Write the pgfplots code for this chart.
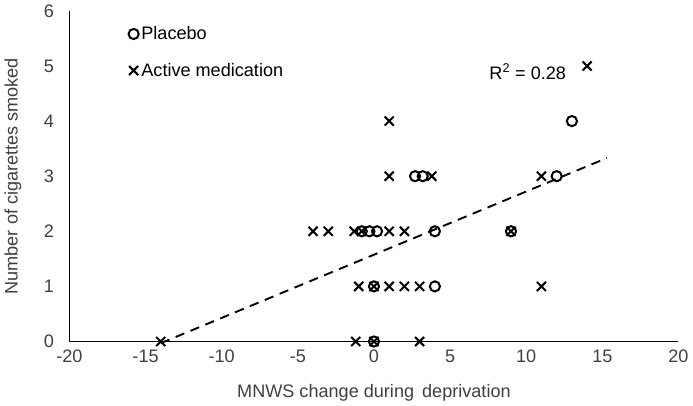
\documentclass[border=0pt]{standalone}
\usepackage{fontspec}
\setmainfont{Liberation Sans}
\usepackage{pgfplots}
\pgfplotsset{compat=1.18}
\definecolor{txtgray}{HTML}{404040}
\begin{document}
\begin{tikzpicture}[x=1pt,y=1pt]
\begin{axis}[
  scale only axis,
  width=454.5pt, height=246.75pt,
  xmin=-20, xmax=20, ymin=0, ymax=6,
  xtick={-20,-15,...,20}, ytick={0,1,...,6},
  axis x line=bottom, axis y line=left,
  axis line style={black, line width=1.4pt, -},
  major tick length=0pt,
  tick label style={font=\fontsize{13.5}{15}\selectfont, text=txtgray},
  /pgf/number format/assume math mode=true,
  xticklabel style={yshift=-3pt},
  yticklabel style={xshift=-8pt},
  xlabel={MNWS change during\, deprivation},
  ylabel={Number of cigarettes smoked},
  label style={font=\fontsize{13.5}{15}\selectfont, text=txtgray},
  xlabel style={yshift=-9pt},
  ylabel style={yshift=10pt},
  clip=false,
  legend style={draw=none, fill=none, at={(0.09,0.97)}, anchor=north west,
    font=\fontsize{13.5}{15}\selectfont, text=black, row sep=12pt,
    /tikz/every even column/.append style={column sep=0pt}},
  legend cell align=left,
  legend image code/.code={\draw[#1] plot coordinates {(0pt,0pt)};},
]
\addplot[only marks, mark=o, mark size=3.8pt, line width=1.5pt, black]
coordinates {
(0,0) (0,1) (4,1) (-0.8,2) (-0.3,2) (0.2,2) (4,2) (9,2)
(2.7,3) (3.2,3) (12,3) (13,4)
};
\addlegendentry{Placebo}
\addplot[only marks, mark=x, mark size=4.8pt, line width=1.5pt, black]
coordinates {
(-14,0) (-1.2,0) (0,0) (3,0)
(-1,1) (0,1) (1,1) (2,1) (3,1) (11,1)
(-4,2) (-3,2) (-1.3,2) (-0.8,2) (1,2) (2,2) (9,2)
(1,3) (3.8,3) (11,3)
(1,4) (14,5)
};
\addlegendentry{Active medication}
\addplot[black, line width=1.4pt, dash pattern=on 7pt off 5pt, forget plot]
coordinates {(-14,-0.03) (15.3,3.33)};
\node[anchor=center, font=\fontsize{13.5}{15}\selectfont, text=black] at (axis cs:10.1,4.9) {R\textsuperscript{2} = 0.28};
\end{axis}
\end{tikzpicture}
\end{document}
